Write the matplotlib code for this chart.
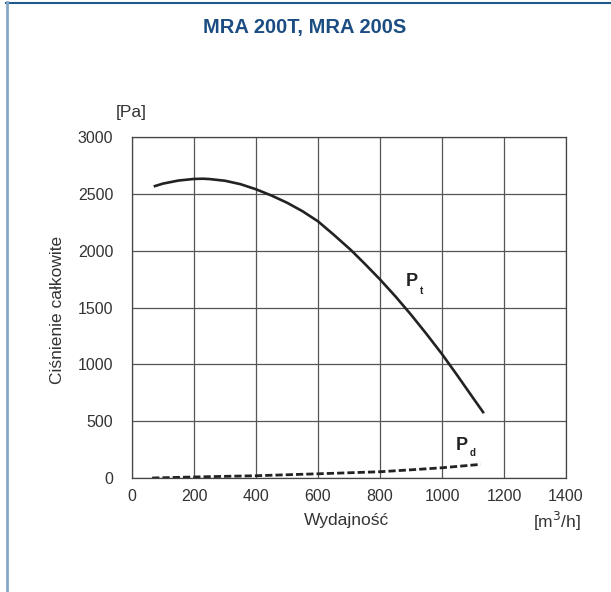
import matplotlib.pyplot as plt
from matplotlib.lines import Line2D

q_pt = [70, 100, 150, 200, 229, 250, 300, 350, 400, 450, 500, 550, 600, 650, 706,
        750, 800, 850, 900, 950, 1000, 1050, 1100, 1135]
p_t = [2565, 2590, 2617, 2631, 2633, 2630, 2615, 2585, 2540, 2485, 2422, 2347, 2258, 2142, 2006,
       1887, 1747, 1597, 1437, 1267, 1090, 900, 705, 570]

q_pd = [65, 200, 400, 600, 800, 900, 1000, 1125]
p_d = [0, 9, 20, 37, 55, 72, 90, 120]

x_ticks = [0, 200, 400, 600, 800, 1000, 1200, 1400]
y_ticks = [0, 500, 1000, 1500, 2000, 2500, 3000]

plt.rcParams['font.family'] = ['Liberation Sans', 'DejaVu Sans']

fig = plt.figure(figsize=(6.11, 5.92), dpi=100)
ax = fig.add_axes([132/611, 1 - 478/592, 434/611, 341/592])

ax.plot(q_pt, p_t, color='#222222', linewidth=1.9, solid_capstyle='butt')
ax.plot(q_pd, p_d, color='#222222', linewidth=2.0, linestyle=(0, (2.6, 1.1)))

ax.set_xlim(0, 1400)
ax.set_ylim(0, 3000)
ax.set_xticks(x_ticks)
ax.set_yticks(y_ticks)
ax.grid(True, color='#555555', linewidth=0.9)
ax.tick_params(length=0, labelsize=11.5, colors='#333333')
ax.tick_params(axis='y', pad=13.5)
ax.tick_params(axis='x', pad=8)
for s in ax.spines.values():
    s.set_color('#444444')
    s.set_linewidth(0.9)

ax.text(902, 1731, 'P', fontsize=13, fontweight='bold', color='#222222', ha='center', va='center')
ax.text(934, 1643, 't', fontsize=7, fontweight='bold', color='#222222', ha='center', va='center')
ax.text(1063, 283, 'P', fontsize=13, fontweight='bold', color='#222222', ha='center', va='center')
ax.text(1097, 221, 'd', fontsize=7, fontweight='bold', color='#222222', ha='center', va='center')

fig.text(131/611, 1 - 112/592, '[Pa]', fontsize=12.5, color='#333333', ha='center', va='center')
fig.text(58/611, 1 - 310/592, 'Ciśnienie całkowite', fontsize=12.5, color='#333333',
         ha='center', va='center', rotation=90)
fig.text(346/611, 1 - 521/592, 'Wydajność', fontsize=12.5, color='#333333', ha='center', va='center')
fig.text(557/611, 1 - 521/592, '[m$^3$/h]', fontsize=12.5, color='#333333', ha='center', va='center')

fig.text(305/611, 1 - 27/592, 'MRA 200T, MRA 200S', fontsize=14.5, fontweight='bold',
         color='#1b4d82', ha='center', va='center')

# ramka
fig.add_artist(Line2D([6/611, 1], [1 - 2.5/592, 1 - 2.5/592], color='#1f5a8f', linewidth=1.5))
fig.add_artist(Line2D([6.5/611, 6.5/611], [0, 1 - 2/592], color='#86a8c8', linewidth=2))

fig.savefig('out.png', dpi=100)
